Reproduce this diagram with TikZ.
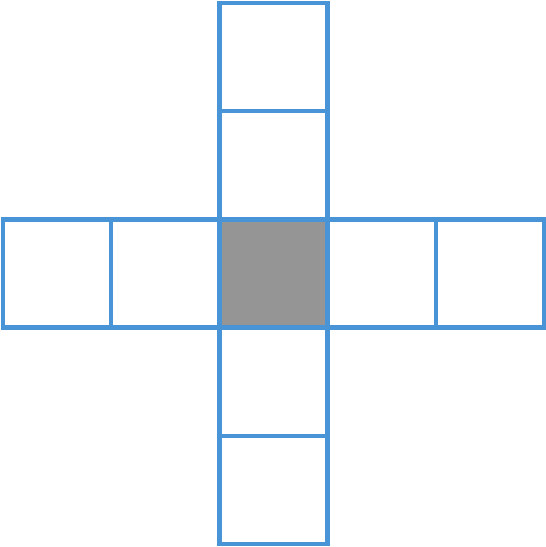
\documentclass[tikz,border=0pt]{standalone}
\begin{document}
\begin{tikzpicture}[x=1pt,y=-1pt,
  cell/.style={draw=cellblue, line width=4.6pt, minimum width=108.3pt, minimum height=108.3pt, inner sep=0pt, outer sep=0pt, anchor=center},
  center/.style={cell, fill=cellgray}]
\definecolor{cellblue}{RGB}{72,148,214}
\definecolor{cellgray}{RGB}{149,149,149}
\useasboundingbox (0,0) rectangle (546,547);
\node[cell] (u2) at (273.5,57) {};
\node[cell] (u1) at (273.5,165.3) {};
\node[cell] (d1) at (273.5,381.7) {};
\node[cell] (d2) at (273.5,490) {};
\node[cell] (l2) at (57,273.5) {};
\node[cell] (l1) at (165.3,273.5) {};
\node[cell] (r1) at (381.7,273.5) {};
\node[cell] (r2) at (490,273.5) {};
\node[center] (c) at (273.5,273.5) {};
\end{tikzpicture}
\end{document}
